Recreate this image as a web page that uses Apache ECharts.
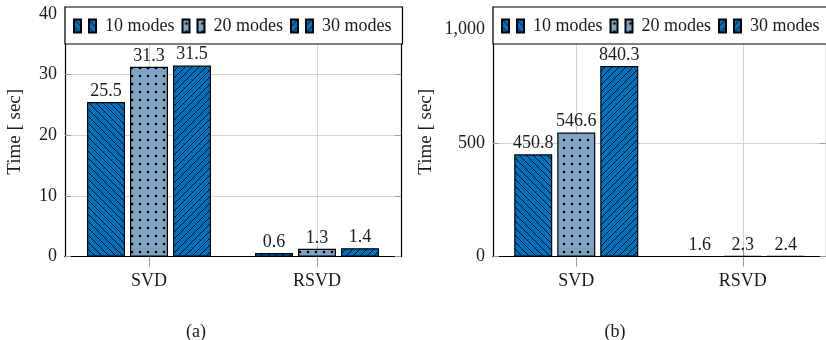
<!DOCTYPE html>
<html>
<head>
<meta charset="utf-8">
<script src="https://cdn.jsdelivr.net/npm/echarts@6/dist/echarts.min.js"></script>
<style>
html,body{margin:0;padding:0;background:#fff;}
#main{width:826px;height:340px;}
</style>
</head>
<body>
<div id="main"></div>
<script>
// ---- data ----
const categories = ['SVD', 'RSVD'];
const seriesNames = ['10 modes', '20 modes', '30 modes'];
const a10 = [25.5, 0.6];
const a20 = [31.3, 1.3];
const a30 = [31.5, 1.4];
const b10 = [450.8, 1.6];
const b20 = [546.6, 2.3];
const b30 = [840.3, 2.4];
const aTicks = [0, 10, 20, 30, 40];
const bTicks = [0, 500, 1000];
const yTitle = 'Time [ sec]';
const captions = ['(a)', '(b)'];

// ---- patterns ----
const BLUE = '#0072BD';
const LIGHT = '#80A3C3';
function linePattern(dir) {
  const s = 7;
  const c = document.createElement('canvas');
  c.width = s; c.height = s;
  const g = c.getContext('2d');
  g.fillStyle = BLUE; g.fillRect(0, 0, s, s);
  g.strokeStyle = '#000'; g.lineWidth = 0.9;
  g.beginPath();
  for (let k = -s; k <= s; k += s) {
    if (dir === 'nw') { g.moveTo(k, 0); g.lineTo(k + s, s); }
    else { g.moveTo(k, s); g.lineTo(k + s, 0); }
  }
  g.stroke();
  return { image: c, repeat: 'repeat' };
}
function dotPattern() {
  const s = 8;
  const c = document.createElement('canvas');
  c.width = s; c.height = s;
  const g = c.getContext('2d');
  g.fillStyle = LIGHT; g.fillRect(0, 0, s, s);
  g.fillStyle = '#000';
  g.beginPath(); g.arc(4, 4, 1.3, 0, Math.PI * 2); g.fill();
  return { image: c, repeat: 'repeat' };
}
const fills = [linePattern('nw'), dotPattern(), linePattern('ne')];

const FONT = '"Liberation Serif", "Times New Roman", serif';
const TXT = '#1a1a1a';
const GRIDC = '#d4d4d4';
const TICKC = '#9a9a9a';

function fmt(v) { return String(v).replace(/\B(?=(\d{3})+(?!\d))/g, ','); }

const panels = [
  { left: 65, width: 336, max: 41.15, interval: 10, ticks: aTicks, data: [a10, a20, a30], nameGap: 40, cap: 191, padR: 11 },
  { left: 493, width: 335, max: 1100, interval: 500, ticks: bTicks, data: [b10, b20, b30], nameGap: 57, cap: 610, padR: 26 }
];

const option = {
  animation: false,
  backgroundColor: '#fff',
  textStyle: { fontFamily: FONT },
  title: panels.map((p, i) => ({
    text: captions[i], left: p.cap, top: 318, textAlign: 'center',
    textStyle: { fontFamily: FONT, fontSize: 18, fontWeight: 'normal', color: TXT }
  })),
  grid: panels.map(p => ({ left: p.left, top: 7, width: p.width, height: 249.7, containLabel: false })),
  legend: panels.map((p, i) => ({
    data: seriesNames, left: p.left, top: 7, width: 420,
    orient: 'horizontal',
    backgroundColor: '#fff', borderColor: '#000', borderWidth: 1.2, borderRadius: 0,
    padding: [9, p.padR, 8, 8],
    itemGap: 7,
    itemWidth: 22, itemHeight: 13,
    icon: 'path://M0,0H7V13H0Z M15,0H22V13H15Z',
    textStyle: { fontFamily: FONT, fontSize: 18, color: TXT, padding: [0, 0, 0, 4], lineHeight: 20 }
  })),
  xAxis: [].concat(...panels.map((p, i) => [
    {
      type: 'category', gridIndex: i, data: categories, position: 'bottom',
      axisLine: { show: true, lineStyle: { color: '#000', width: 1.2 } },
      axisTick: { show: true, alignWithLabel: true, inside: false, length: 10, lineStyle: { color: TICKC } },
      axisLabel: { fontFamily: FONT, fontSize: 18, color: TXT, margin: 16 },
      splitLine: { show: true, alignWithLabel: true, lineStyle: { color: GRIDC } }
    },
    {
      type: 'category', gridIndex: i, data: categories, position: 'top',
      axisLine: { show: true, lineStyle: { color: '#000', width: 1.2 } },
      axisTick: { show: true, alignWithLabel: true, inside: false, length: 10, lineStyle: { color: TICKC } },
      axisLabel: { show: false },
      splitLine: { show: false }
    }
  ])),
  yAxis: [].concat(...panels.map((p, i) => [
    {
      type: 'value', gridIndex: i, min: 0, max: p.max, interval: p.interval, position: 'left',
      name: yTitle, nameLocation: 'middle', nameGap: p.nameGap, nameRotate: 90,
      nameTextStyle: { fontFamily: FONT, fontSize: 19, color: TXT },
      axisLine: { show: true, lineStyle: { color: '#000', width: 1.2 } },
      axisTick: { show: true, inside: true, length: 6, lineStyle: { color: TICKC } },
      axisLabel: {
        fontFamily: FONT, fontSize: 18, color: TXT, margin: 8, showMaxLabel: false,
        formatter: v => (p.ticks.indexOf(v) >= 0 ? fmt(v) : '')
      },
      splitLine: { show: true, lineStyle: { color: GRIDC } }
    },
    {
      type: 'value', gridIndex: i, min: 0, max: p.max, interval: p.interval, position: 'right',
      axisLine: { show: true, lineStyle: { color: '#000', width: 1.2 } },
      axisTick: { show: true, inside: true, length: 6, lineStyle: { color: TICKC } },
      axisLabel: { show: false },
      splitLine: { show: false }
    }
  ])),
  series: [].concat(...panels.map((p, i) => seriesNames.map((n, k) => ({
    type: 'bar', name: n, xAxisIndex: i * 2, yAxisIndex: i * 2,
    data: p.data[k],
    barWidth: 38, barGap: '13.2%',
    itemStyle: { color: fills[k], borderColor: '#000', borderWidth: 1.2 },
    label: {
      show: true, position: 'top', distance: 2,
      fontFamily: FONT, fontSize: 18, color: TXT,
      formatter: d => d.value.toFixed(1)
    }
  }))))
};

const chart = echarts.init(document.getElementById('main'), null, { renderer: 'canvas' });
chart.setOption(option);
</script>
</body>
</html>
